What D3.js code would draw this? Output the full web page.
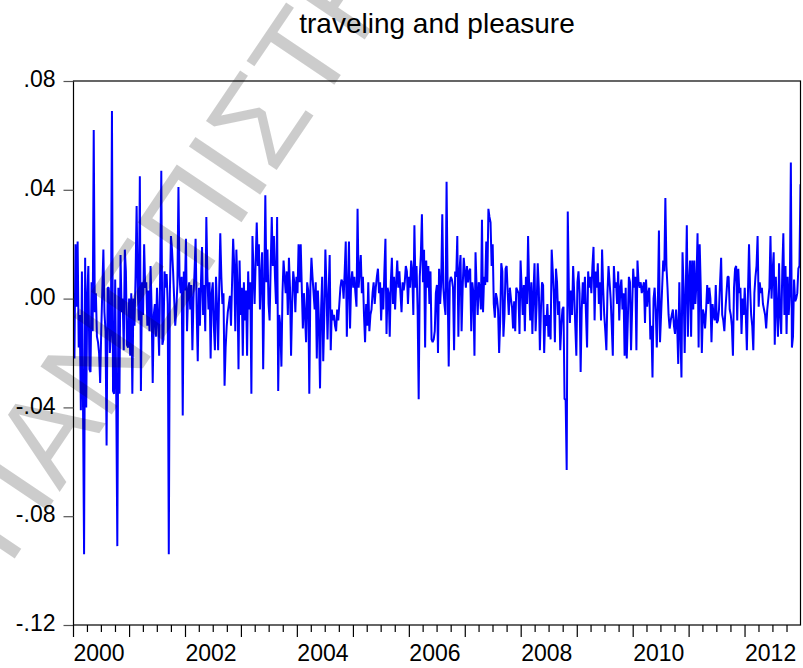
<!DOCTYPE html>
<html>
<head>
<meta charset="utf-8">
<script src="https://cdn.jsdelivr.net/npm/d3@7"></script>
<style>
  html, body { margin: 0; padding: 0; background: #fff; }
  svg { display: block; }
  text { font-family: "Liberation Sans", Arial, Helvetica, sans-serif; }
</style>
</head>
<body>
<svg id="chart" width="803" height="668"></svg>
<script>
// Weekly returns, one array per calendar year (Friday observations)
const y2000 = [-.022, .020, -.003, .021, -.018, -.006, -.041, .010, -.038, -.094,
  .015, -.040, .001, .012, -.026, -.027, .006, -.012, .062, -.005,
  .002, -.014, -.016, -.020, -.031, -.012, .003, .018, -.005, -.012,
  -.054, .004, .004, -.020, -.013, .069, -.034, -.035, .007, -.036,
  -.091, .004, -.035, .016, -.005, .000, -.019, .018, .010, -.017,
  -.018, .000];
const y2001 = [-.021, .002, -.035, .000, -.010, .008, .034, .004, -.008, .045,
  -.034, .006, -.006, .020, .004, .006, -.010, .003, -.012, .012,
  -.004, -.031, -.006, -.002, -.014, .004, -.008, -.021, .011, .047,
  -.017, -.015, .010, .004, .009, -.002, -.094, .002, .023, .018,
  .010, .000, -.010, -.004, .005, .041, .008, .002, .008, -.043,
  .010, .003];
const y2002 = [.022, -.012, .002, .006, -.004, .005, -.019, .000, .010, .022,
  -.005, -.023, .004, -.010, .006, .019, -.006, .005, -.012, .030,
  .008, -.004, .006, -.022, .002, .006, -.010, -.019, .008, -.003,
  -.019, .004, .024, .008, -.002, .002, -.032, -.018, -.010, -.005,
  -.002, .001, -.010, .006, .022, .012, -.012, .018, .005, -.026,
  .014, -.006];
const y2003 = [.004, -.021, .006, -.008, .003, -.021, .010, -.004, .006, -.035,
  .023, .010, -.002, .014, .028, .012, .020, -.004, .008, .017,
  -.026, .004, .038, .006, .018, -.002, -.008, .012, .030, .012,
  .023, .008, -.002, .030, -.034, -.006, -.010, -.025, .002, .014,
  .008, .002, .010, -.006, .015, .004, -.021, -.002, .010, .006,
  -.005, .008];
const y2004 = [.002, .020, .006, .020, .004, -.011, .002, -.006, -.016, .006,
  .003, -.035, .004, .015, .008, .002, -.004, .006, -.022, .003,
  -.008, -.033, -.004, .008, -.023, -.006, .018, .004, -.015, .002,
  .016, -.019, -.004, -.008, -.006, -.010, -.012, -.004, -.008, -.002,
  .004, .007, .006, .000, .010, .021, -.014, .004, .021, -.011,
  .006, .010, .004];
const y2005 = [.008, .002, -.003, .033, .004, .010, .016, .002, .008, -.006,
  -.016, -.002, -.010, .006, -.012, -.006, -.004, .002, .006, -.002,
  .004, .008, .011, .002, .006, -.008, .004, -.004, .010, .022,
  -.013, .004, .002, -.014, .006, .015, -.002, .008, -.004, .006,
  .014, .004, .010, .002, -.005, .006, .003, .006, .012, .010,
  -.002, .008];
const y2006 = [.004, .014, .010, -.006, .027, .004, .012, -.004, -.037, .008,
  .016, .031, .006, .018, -.018, .014, .004, .012, -.002, .010,
  -.015, -.016, -.015, -.012, .002, .005, -.020, .011, -.002, .006,
  .031, .004, -.002, -.006, .043, .004, -.025, .006, .008, .007,
  .004, -.019, .010, .008, .023, -.014, .010, .016, -.012, .004,
  .015, .010];
const y2007 = [.004, .012, .006, .010, .011, -.012, .006, .002, -.021, .017,
  .004, -.006, .006, .004, -.004, .029, -.005, .008, .005, .021,
  .006, .033, .030, .028, .012, .020, -.002, -.007, .002, .000,
  -.004, -.020, -.008, .013, .010, -.014, -.006, .011, .012, .002,
  -.006, .004, .000, -.003, -.011, -.001, -.012, .004, .003, .002,
  -.013, .014];
const y2008 = [.004, -.006, .005, -.012, .008, -.002, .023, .004, -.008, .006,
  -.013, .002, .013, -.012, -.002, .013, .004, -.019, -.004, .006,
  .005, -.020, -.006, -.010, -.002, -.014, -.006, -.015, .018, .010,
  .002, -.016, .011, .006, -.006, -.001, -.019, -.010, -.004, -.003,
  -.037, -.037, -.063, .032, .004, -.009, .003, -.006, .012, .002,
  -.010, -.021];
const y2009 = [.006, .010, .002, -.027, -.004, .006, -.002, .008, -.006, -.018,
  .010, .004, .008, .002, .012, .019, -.008, .010, .004, .013,
  -.002, .006, -.008, .018, .004, -.006, -.012, -.019, .002, .012,
  .006, .000, -.010, -.021, .012, .004, .006, -.002, .010, -.008,
  .004, .007, -.004, .002, -.021, .004, -.022, -.008, .008, .006,
  -.019, -.004];
const y2010 = [.011, .004, .008, -.019, .014, .006, .004, .006, .002, .004,
  .006, -.009, .007, -.003, .002, .004, -.015, -.010, -.029, .000,
  .004, -.004, -.018, -.002, .025, -.016, -.006, .004, .014, .010,
  .037, .012, .004, -.006, -.011, -.008, -.006, -.004, -.010, -.013,
  -.004, -.010, -.024, .006, -.012, -.029, .017, .004, -.020, .002,
  .027, -.014, .006];
const y2011 = [.014, -.014, .014, -.004, .014, -.002, .006, .024, -.018, .020,
  .004, -.020, -.004, -.006, -.011, -.004, .005, -.002, .004, .000,
  -.016, -.002, -.006, -.008, .005, -.009, -.008, -.004, .006, .015,
  -.006, -.008, -.012, -.004, .002, .008, .008, -.004, -.006, -.010,
  -.021, .004, .011, .012, -.008, .011, .002, .004, -.013, .000,
  -.006, .004];
const y2012 = [-.006, -.019, .002, .020, .004, -.006, -.010, -.019, .002, .008,
  .012, .023, -.003, .006, .002, .004, -.002, -.004, -.006, -.011,
  -.004, .000, .004, .023, .000, .010, .017, -.017, .008, -.004,
  -.014, .013, -.006, -.013, .010, .024, -.006, .012, -.013, .008,
  -.006, .002, .050, -.018, -.014, .007, -.001, .000, .002, .011,
  .012, .042];

const years = [2000, 2001, 2002, 2003, 2004, 2005, 2006, 2007, 2008, 2009, 2010, 2011, 2012];
const yearly = [y2000, y2001, y2002, y2003, y2004, y2005, y2006, y2007, y2008, y2009, y2010, y2011, y2012];

const yTicks = [.08, .04, .00, -.04, -.08, -.12];
const yTickLabels = [".08", ".04", ".00", "-.04", "-.08", "-.12"];
const xTickYears = [2000, 2002, 2004, 2006, 2008, 2010, 2012];

const chartTitle = "traveling and pleasure";
const stampText = "ΠΑΝΕΠΙΣΤΗΜΙΟ ΠΕΙΡΑΙΩΣ";

// Build the weekly series: first Friday of 2000, then every 7 days
const series = [];
let k = 0;
yearly.forEach(arr => arr.forEach(v => {
  series.push({ date: new Date(Date.UTC(2000, 0, 7 + 7 * k)), value: v });
  k++;
}));

const svg = d3.select("#chart");
const L = 73.5, R = 800.5, T = 81, B = 625;

const x = d3.scaleUtc()
  .domain([new Date(Date.UTC(2000, 0, 1)), series[series.length - 1].date])
  .range([L, R]);
const y = d3.scaleLinear().domain([-0.12, 0.08]).range([B, T]);

// Title
svg.append("text")
  .attr("x", (L + R) / 2).attr("y", 33)
  .attr("text-anchor", "middle")
  .attr("font-size", 28)
  .attr("fill", "#000")
  .text(chartTitle);

// Plot area clip
svg.append("clipPath").attr("id", "plotclip")
  .append("rect").attr("x", L).attr("y", T).attr("width", R - L).attr("height", B - T);

// Series line
const line = d3.line().x(d => x(d.date)).y(d => y(d.value));
svg.append("path")
  .datum(series)
  .attr("clip-path", "url(#plotclip)")
  .attr("fill", "none")
  .attr("stroke", "#0000ff")
  .attr("stroke-width", 2)
  .attr("stroke-linejoin", "bevel")
  .attr("d", line);

// Frame
svg.append("rect")
  .attr("x", L).attr("y", T).attr("width", R - L).attr("height", B - T)
  .attr("fill", "none").attr("stroke", "#000").attr("stroke-width", 1.2);

// Y axis
const yAxis = d3.axisLeft(y)
  .tickValues(yTicks)
  .tickSize(10)
  .tickPadding(8)
  .tickFormat((d, i) => yTickLabels[i]);
const gy = svg.append("g").attr("transform", `translate(${L},0)`).call(yAxis);
gy.select(".domain").remove();
gy.selectAll(".tick line").attr("stroke", "#555").attr("stroke-width", 1.2);
gy.selectAll(".tick text")
  .attr("font-size", 23).attr("fill", "#000")
  .attr("dy", "0.25em")
  .style("font-family", '"Liberation Sans", Arial, sans-serif');

// X axis: yearly major ticks, quarterly minor ticks
const yearStarts = d3.utcYear.range(new Date(Date.UTC(2000, 0, 1)), new Date(Date.UTC(2013, 0, 1)));
const quarters = d3.utcMonth.every(3)
  .range(new Date(Date.UTC(2000, 0, 1)), new Date(Date.UTC(2013, 0, 1)))
  .filter(d => d.getUTCMonth() !== 0 && x(d) <= R + 0.5);

const gx = svg.append("g");
gx.selectAll("line.major").data(yearStarts).join("line")
  .attr("class", "major")
  .attr("x1", d => x(d)).attr("x2", d => x(d))
  .attr("y1", B).attr("y2", B + 12)
  .attr("stroke", "#000").attr("stroke-width", 1.2);
gx.selectAll("line.minor").data(quarters).join("line")
  .attr("class", "minor")
  .attr("x1", d => x(d)).attr("x2", d => x(d))
  .attr("y1", B).attr("y2", B + 7)
  .attr("stroke", "#000").attr("stroke-width", 1.2);
gx.selectAll("text").data(xTickYears).join("text")
  .attr("x", d => x(new Date(Date.UTC(d, 0, 1))))
  .attr("y", 661)
  .attr("font-size", 23)
  .attr("fill", "#000")
  .text(d => d);

// Diagonal stamp across the page
svg.append("text")
  .attr("transform", "translate(9,567) rotate(-56)")
  .attr("font-size", 125)
  .attr("fill", "#000")
  .attr("fill-opacity", 0.2)
  .text(stampText);
</script>
</body>
</html>
